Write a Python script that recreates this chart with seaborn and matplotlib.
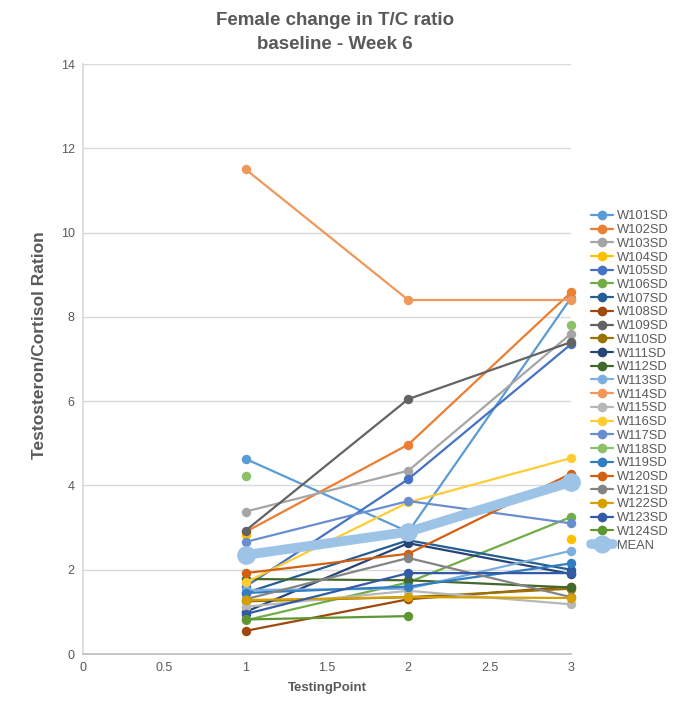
import numpy as np
import pandas as pd
import matplotlib
matplotlib.use("Agg")
import matplotlib.pyplot as plt
from matplotlib.lines import Line2D
import seaborn as sns

nan = np.nan

# Testosterone / cortisol ratio per subject at each testing point
testing_points = [1, 2, 3]
subjects = ["W101SD", "W102SD", "W103SD", "W104SD", "W105SD", "W106SD",
            "W107SD", "W108SD", "W109SD", "W110SD", "W111SD", "W112SD",
            "W113SD", "W114SD", "W115SD", "W116SD", "W117SD", "W118SD",
            "W119SD", "W120SD", "W121SD", "W122SD", "W123SD", "W124SD"]
point1 = [4.63, 2.90, 3.38, 2.83, 1.60, 0.80, 1.45, 0.55, 2.93, 1.25, 1.00, 1.78,
          1.52, 11.50, 1.12, 1.70, 2.66, 4.22, 1.45, 1.92, 1.30, 1.28, 0.95, 0.82]
point2 = [2.90, 4.97, 4.35, nan, 4.15, 1.70, 2.70, 1.30, 6.05, 1.35, 2.63, 1.75,
          1.55, 8.40, 1.50, 3.60, 3.63, nan, 1.60, 2.38, 2.28, 1.35, 1.92, 0.90]
point3 = [8.45, 8.58, 7.60, 2.72, 7.35, 3.25, 2.00, 1.60, 7.40, 1.55, 1.90, 1.58,
          2.45, 8.40, 1.18, 4.65, 3.10, 7.80, 2.15, 4.28, 1.35, 1.33, 1.92, nan]
mean_ratio = [2.35, 2.90, 4.08]

palette = ["#5B9BD5", "#ED7D31", "#A5A5A5", "#FFC000", "#4472C4", "#70AD47",
           "#255E91", "#9E480E", "#636363", "#997300", "#264478", "#43682B",
           "#7CAFDD", "#F1975A", "#B7B7B7", "#FFCD33", "#698ED0", "#8CC168",
           "#327DC2", "#D26012", "#848484", "#D5A000", "#335AA6", "#5E9732"]
mean_color = "#9DC3E6"
text_color = "#595959"

long_df = pd.DataFrame({
    "subject": np.repeat(subjects, len(testing_points)),
    "point": testing_points * len(subjects),
    "ratio": np.column_stack([point1, point2, point3]).ravel(),
})

sns.set_theme(style="white")
plt.rcParams["font.family"] = ["Liberation Sans", "DejaVu Sans"]

fig = plt.figure(figsize=(6.73, 7.01), dpi=100)
ax = fig.add_axes([0.1233, 0.0670, 0.7251, 0.8417])

# Each subject: draw contiguous runs so missing visits leave gaps
for subj, color in zip(subjects, palette):
    sub = long_df[long_df["subject"] == subj].reset_index(drop=True)
    valid = sub["ratio"].notna()
    run_id = (~valid).cumsum()
    for _, run in sub[valid].groupby(run_id[valid]):
        sns.lineplot(data=run, x="point", y="ratio", color=color, marker="o",
                     markersize=6.8, markeredgewidth=0, linewidth=1.6,
                     estimator=None, sort=False, legend=False, ax=ax, clip_on=False)

mean_df = pd.DataFrame({"point": testing_points, "ratio": mean_ratio})
sns.lineplot(data=mean_df, x="point", y="ratio", color=mean_color, marker="o",
             markersize=13.5, markeredgewidth=0, linewidth=7, estimator=None,
             legend=False, ax=ax, clip_on=False)

ax.set_xlim(0, 3)
ax.set_ylim(0, 14)
ax.set_xticks([0, 0.5, 1, 1.5, 2, 2.5, 3])
ax.set_xticklabels(["0", "0.5", "1", "1.5", "2", "2.5", "3"])
ax.set_yticks(range(0, 15, 2))
ax.tick_params(axis="both", length=0, labelsize=9, colors=text_color, pad=6)
ax.yaxis.grid(True, color="#D9D9D9", linewidth=1)
ax.xaxis.grid(False)
for side in ["top", "right"]:
    ax.spines[side].set_visible(False)
ax.spines["left"].set_color("#D9D9D9")
ax.spines["bottom"].set_color("#BFBFBF")
ax.set_xlabel("")
ax.set_ylabel("")

fig.text(0.486, 0.0185, "TestingPoint", ha="center", va="center",
         fontsize=9.5, fontweight="bold", color=text_color)
fig.text(0.059, 0.508, "Testosteron/Cortisol Ration", ha="center", va="center",
         rotation=90, fontsize=12.5, fontweight="bold", color=text_color)
fig.text(0.498, 0.954, "Female change in T/C ratio\nbaseline - Week 6", ha="center",
         va="center", fontsize=13.5, fontweight="bold", color=text_color,
         linespacing=1.55)

handles = [Line2D([0], [0], color=c, marker="o", markersize=7, markeredgewidth=0,
                  linewidth=1.6) for c in palette]
handles.append(Line2D([0], [0], color=mean_color, marker="o", markersize=13,
                      markeredgewidth=0, linewidth=7))
labels = subjects + ["MEAN"]
fig.legend(handles, labels, loc="upper left", bbox_to_anchor=(0.8775, 0.700),
           frameon=False, fontsize=9.3, labelspacing=0.13, handlelength=1.7,
           handletextpad=0.35, borderpad=0, borderaxespad=0, labelcolor=text_color)

fig.savefig("out.png", dpi=100)
